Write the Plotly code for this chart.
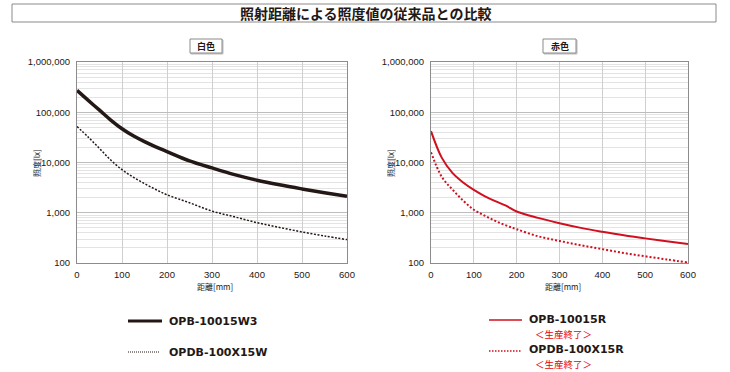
import plotly.graph_objects as go

W, H = 730, 372

# ---------------- data ----------------
dist_mm = [0, 25, 50, 75, 100, 125, 150, 175, 200, 250, 300, 350, 400, 450, 500, 550, 600]

white_opb = [272000, 172000, 110000, 70000, 47000, 34000, 26000, 20500, 16500, 10800, 7800,
             5750, 4450, 3600, 2980, 2500, 2120]
white_opdb = [52000, 32000, 19000, 11200, 7200, 5100, 3800, 2900, 2280, 1580, 1080,
              830, 635, 510, 415, 345, 292]

red_opb = [42000, 12500, 6200, 4000, 2850, 2150, 1700, 1380, 1060, 790, 620,
           500, 418, 355, 309, 270, 238]
red_opdb = [16000, 5200, 2900, 1750, 1150, 880, 690, 560, 470, 340, 275,
            225, 189, 158, 136, 118, 102]

x_ticks = [0, 100, 200, 300, 400, 500, 600]
y_ticks = [100, 1000, 10000, 100000, 1000000]
y_ticktext = ["100", "1,000", "10,000", "100,000", "1,000,000"]
y_minor = [m * d for d in [100, 1000, 10000, 100000] for m in range(2, 10)]

title_text = "照射距離による照度値の従来品との比較"
panel_titles = ["白色", "赤色"]
x_title = "距離[mm]"
y_title = "照度[lx]"
legend_white = ["OPB-10015W3", "OPDB-100X15W"]
legend_red = ["OPB-10015R", "OPDB-100X15R"]
discontinued = "＜生産終了＞"

DARK = "#231815"
RED = "#d0101e"


def px(x):
    return x / W


def py(y):
    return 1 - y / H


fig = go.Figure()

fig.add_trace(go.Scatter(x=dist_mm, y=white_opb, mode="lines", line=dict(color=DARK, width=3.5, shape="spline"),
                         xaxis="x", yaxis="y", showlegend=False))
fig.add_trace(go.Scatter(x=dist_mm, y=white_opdb, mode="lines", line=dict(color=DARK, width=1.5, dash="2px,1.6px", shape="spline"),
                         xaxis="x", yaxis="y", showlegend=False))
fig.add_trace(go.Scatter(x=dist_mm, y=red_opb, mode="lines", line=dict(color=RED, width=2, shape="spline"),
                         xaxis="x2", yaxis="y2", showlegend=False))
fig.add_trace(go.Scatter(x=dist_mm, y=red_opdb, mode="lines", line=dict(color=RED, width=2, dash="2px,2px", shape="spline"),
                         xaxis="x2", yaxis="y2", showlegend=False))

tickfont = dict(family="Liberation Sans, Arial, sans-serif", size=9.5, color="#231815")

xcommon = dict(range=[0, 600], tickvals=x_ticks, showgrid=True, gridcolor="#cfcfcf", gridwidth=1,
               showline=True, linecolor="#8c8c8c", linewidth=1, mirror=True, zeroline=False,
               ticks="", tickfont=tickfont, ticklabelstandoff=3, fixedrange=True, automargin=False)
ycommon = dict(type="log", range=[2, 6], tickvals=y_ticks, ticktext=y_ticktext,
               showgrid=True, gridcolor="#bdbdbd", gridwidth=1,
               minor=dict(tickvals=y_minor, showgrid=True, gridcolor="#e3e3e3", gridwidth=1, ticks=""),
               showline=True, linecolor="#8c8c8c", linewidth=1, mirror=True, zeroline=False,
               ticks="", tickfont=tickfont, ticklabelstandoff=4, fixedrange=True, automargin=False)

fig.update_layout(
    width=W, height=H,
    margin=dict(l=0, r=0, t=0, b=0, pad=0),
    paper_bgcolor="white", plot_bgcolor="white",
    xaxis=dict(domain=[px(77), px(347)], anchor="y", **xcommon),
    yaxis=dict(domain=[py(263), py(62)], anchor="x", **ycommon),
    xaxis2=dict(domain=[px(431), px(688)], anchor="y2", **xcommon),
    yaxis2=dict(domain=[py(263), py(62)], anchor="x2", **ycommon),
    showlegend=False,
)

shapes = []
annotations = []

# title box
shapes.append(dict(type="rect", xref="paper", yref="paper", x0=px(12), x1=px(716), y0=py(22), y1=py(4),
                   line=dict(color="#8a8a8a", width=1)))
annotations.append(dict(text="<b>" + title_text + "</b>", x=px(365), y=py(13), xref="paper", yref="paper",
                        showarrow=False, font=dict(family="Noto Sans CJK JP", size=14, color=DARK),
                        xanchor="center", yanchor="middle"))

# panel title boxes
for (x0, x1), t in zip([(190, 222), (543, 576)], panel_titles):
    shapes.append(dict(type="rect", xref="paper", yref="paper", x0=px(x0 + 1), x1=px(x1 + 1), y0=py(54), y1=py(40),
                       line=dict(color="#bbbbbb", width=1), fillcolor="#d8d8d8", layer="below"))
    shapes.append(dict(type="rect", xref="paper", yref="paper", x0=px(x0), x1=px(x1), y0=py(53), y1=py(39),
                       line=dict(color="#8a8a8a", width=1), fillcolor="white"))
    annotations.append(dict(text="<b>" + t + "</b>", x=px((x0 + x1) / 2), y=py(46), xref="paper", yref="paper",
                            showarrow=False, font=dict(family="Noto Sans CJK JP", size=9, color=DARK),
                            xanchor="center", yanchor="middle"))

# axis titles
for xc in [215, 563]:
    annotations.append(dict(text=x_title, x=px(xc), y=py(286), xref="paper", yref="paper", showarrow=False,
                            font=dict(family="Noto Sans CJK JP", size=8, color=DARK), xanchor="center", yanchor="middle"))
for xc in [36, 390]:
    annotations.append(dict(text=y_title, x=px(xc), y=py(163), xref="paper", yref="paper", showarrow=False,
                            textangle=-90, font=dict(family="Noto Sans CJK JP", size=8, color=DARK),
                            xanchor="center", yanchor="middle"))

# legends
legfont = dict(family="DejaVu Sans, sans-serif", size=11, color=DARK)
shapes.append(dict(type="line", xref="paper", yref="paper", x0=px(128), x1=px(162), y0=py(321), y1=py(321),
                   line=dict(color=DARK, width=3)))
shapes.append(dict(type="line", xref="paper", yref="paper", x0=px(128), x1=px(160), y0=py(352), y1=py(352),
                   line=dict(color=DARK, width=1, dash="1px,1px")))
annotations.append(dict(text="<b>" + legend_white[0] + "</b>", x=px(167), y=py(321), xref="paper", yref="paper",
                        showarrow=False, font=legfont, xanchor="left", yanchor="middle"))
annotations.append(dict(text="<b>" + legend_white[1] + "</b>", x=px(167), y=py(352), xref="paper", yref="paper",
                        showarrow=False, font=legfont, xanchor="left", yanchor="middle"))

shapes.append(dict(type="line", xref="paper", yref="paper", x0=px(489), x1=px(522), y0=py(320), y1=py(320),
                   line=dict(color=RED, width=1.5)))
shapes.append(dict(type="line", xref="paper", yref="paper", x0=px(489), x1=px(521), y0=py(351), y1=py(351),
                   line=dict(color=RED, width=1.5, dash="1.5px,1.5px")))
annotations.append(dict(text="<b>" + legend_red[0] + "</b>", x=px(528), y=py(319), xref="paper", yref="paper",
                        showarrow=False, font=legfont, xanchor="left", yanchor="middle", borderpad=0))
annotations.append(dict(text="<b>" + legend_red[1] + "</b>", x=px(528), y=py(349.5), xref="paper", yref="paper",
                        showarrow=False, font=legfont, xanchor="left", yanchor="middle", borderpad=0))
for yc in [333.5, 364]:
    annotations.append(dict(text=discontinued, x=px(534), y=py(yc), xref="paper", yref="paper",
                            showarrow=False, font=dict(family="Noto Sans CJK JP", size=9.5, color="#e60012"),
                            xanchor="left", yanchor="middle", borderpad=0))

fig.update_layout(shapes=shapes, annotations=annotations)

fig.write_html("out.html", config={"displayModeBar": False},
               post_script="document.body.style.margin='0';document.body.style.overflow='hidden';")
